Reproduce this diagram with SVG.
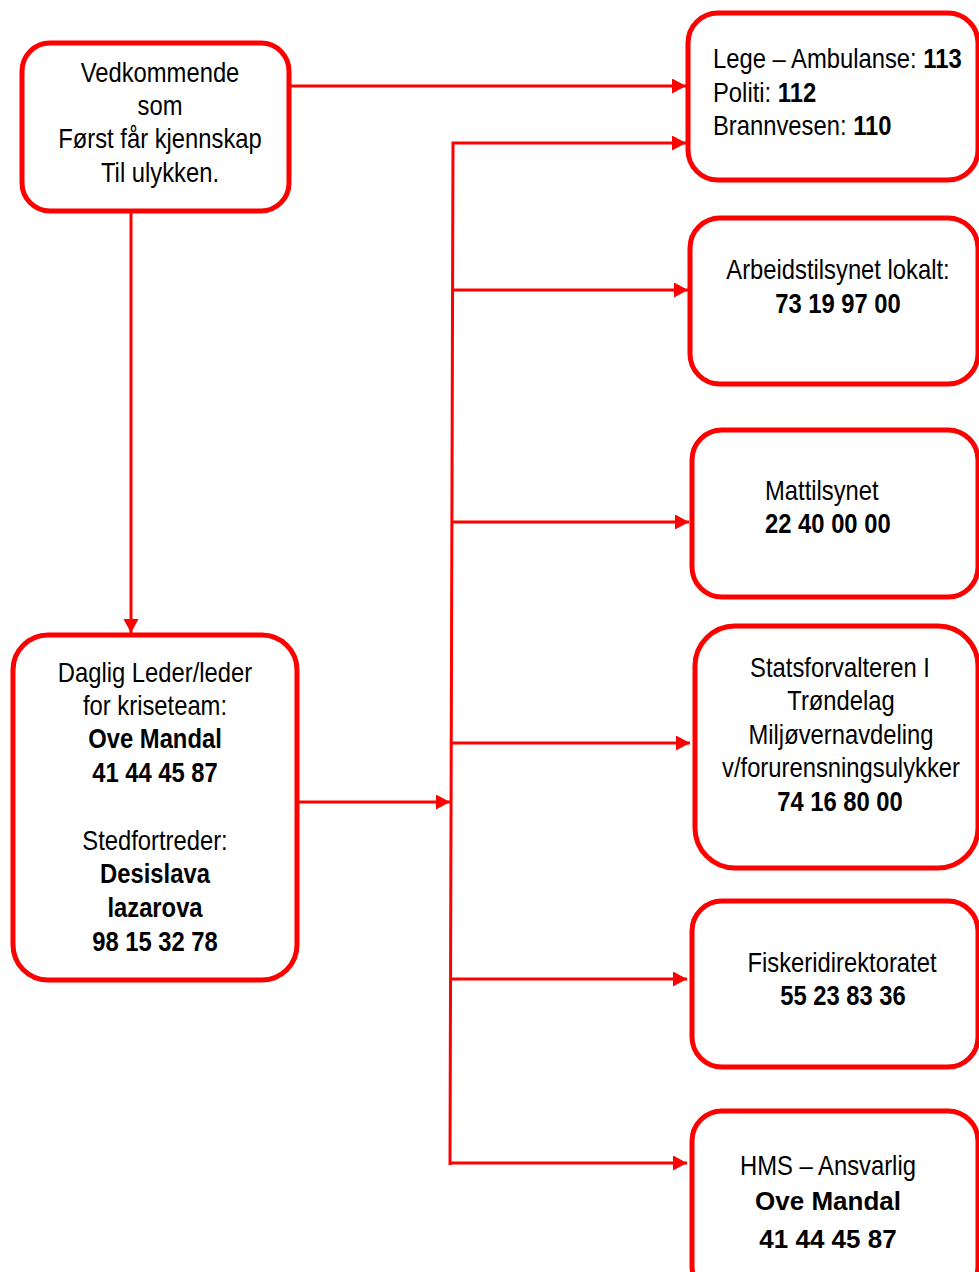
<svg xmlns="http://www.w3.org/2000/svg" width="979" height="1272" viewBox="0 0 979 1272">
<style>
.box{fill:#FFFFFF;stroke:#FF0000;stroke-width:5}
.con{fill:none;stroke:#FF0000;stroke-width:3}
text{font-family:"Liberation Sans",Arial,sans-serif;font-size:28px;fill:#000000}
.c{text-anchor:middle}
.b{font-weight:bold}
.cal{font-size:25px;font-weight:bold}
</style>
<defs>
<marker id="ah" markerUnits="userSpaceOnUse" markerWidth="15" markerHeight="16" refX="14" refY="7.5" orient="auto">
<path d="M0,0 L14,7.5 L0,15 z" fill="#FF0000"/>
</marker>
</defs>
<rect width="979" height="1272" fill="#FFFFFF"/>
<g id="connectors">
<path class="con" d="M289,86 L686,86" marker-end="url(#ah)"/>
<path class="con" d="M131,211 L131,633" marker-end="url(#ah)"/>
<path class="con" d="M297,802 L450,802" marker-end="url(#ah)"/>
<path class="con" d="M450,1165 L453,143 L686,143" marker-end="url(#ah)"/>
<path class="con" d="M452,290 L688,290" marker-end="url(#ah)"/>
<path class="con" d="M451,522 L689,522" marker-end="url(#ah)"/>
<path class="con" d="M451,743 L690,743" marker-end="url(#ah)"/>
<path class="con" d="M450,979 L687,979" marker-end="url(#ah)"/>
<path class="con" d="M450,1163 L687,1163" marker-end="url(#ah)"/>
</g>
<g id="node-vedkommende">
<rect class="box" x="22" y="43" width="267" height="168" rx="28"/>
<text class="c" transform="translate(160,82) scale(0.85,1)">Vedkommende</text>
<text class="c" transform="translate(160,115) scale(0.85,1)">som</text>
<text class="c" transform="translate(160,148) scale(0.85,1)">Først får kjennskap</text>
<text class="c" transform="translate(160,182) scale(0.85,1)">Til ulykken.</text>
</g>
<g id="node-daglig-leder">
<rect class="box" x="13" y="635" width="284" height="345" rx="35"/>
<text class="c" transform="translate(155,682) scale(0.85,1)">Daglig Leder/leder</text>
<text class="c" transform="translate(155,715) scale(0.85,1)">for kriseteam:</text>
<text class="c b" transform="translate(155,748) scale(0.85,1)">Ove Mandal</text>
<text class="c b" transform="translate(155,782) scale(0.85,1)">41 44 45 87</text>
<text class="c" transform="translate(155,850) scale(0.85,1)">Stedfortreder:</text>
<text class="c b" transform="translate(155,883) scale(0.85,1)">Desislava</text>
<text class="c b" transform="translate(155,917) scale(0.85,1)">lazarova</text>
<text class="c b" transform="translate(155,951) scale(0.85,1)">98 15 32 78</text>
</g>
<g id="node-nodnummer">
<rect class="box" x="688" y="13" width="290" height="167" rx="30"/>
<text transform="translate(713,68) scale(0.85,1)">Lege – Ambulanse: <tspan class="b">113</tspan></text>
<text transform="translate(713,102) scale(0.85,1)">Politi: <tspan class="b">112</tspan></text>
<text transform="translate(713,135) scale(0.85,1)">Brannvesen: <tspan class="b">110</tspan></text>
</g>
<g id="node-arbeidstilsynet">
<rect class="box" x="690" y="218" width="288" height="166" rx="30"/>
<text class="c" transform="translate(838,279) scale(0.85,1)">Arbeidstilsynet lokalt:</text>
<text class="c b" transform="translate(838,313) scale(0.85,1)">73 19 97 00</text>
</g>
<g id="node-mattilsynet">
<rect class="box" x="692" y="430" width="286" height="167" rx="30"/>
<text transform="translate(765,500) scale(0.85,1)">Mattilsynet</text>
<text class="b" transform="translate(765,533) scale(0.85,1)">22 40 00 00</text>
</g>
<g id="node-statsforvalteren">
<rect class="box" x="695" y="626" width="283" height="242" rx="40"/>
<text class="c" transform="translate(840,677) scale(0.85,1)">Statsforvalteren I</text>
<text class="c" transform="translate(841,710) scale(0.85,1)">Trøndelag</text>
<text class="c" transform="translate(841,744) scale(0.85,1)">Miljøvernavdeling</text>
<text class="c" transform="translate(841,777) scale(0.85,1)">v/forurensningsulykker</text>
<text class="c b" transform="translate(840,811) scale(0.85,1)">74 16 80 00</text>
</g>
<g id="node-fiskeridirektoratet">
<rect class="box" x="692" y="901" width="286" height="166" rx="30"/>
<text class="c" transform="translate(842,972) scale(0.85,1)">Fiskeridirektoratet</text>
<text class="c b" transform="translate(843,1005) scale(0.85,1)">55 23 83 36</text>
</g>
<g id="node-hms">
<rect class="box" x="692" y="1111" width="286" height="185" rx="30"/>
<text class="c" transform="translate(828,1175) scale(0.85,1)">HMS – Ansvarlig</text>
<text class="c cal" transform="translate(828,1210) scale(1.04,1)">Ove Mandal</text>
<text class="c cal" transform="translate(828,1248) scale(1.04,1)">41 44 45 87</text>
</g>
</svg>
